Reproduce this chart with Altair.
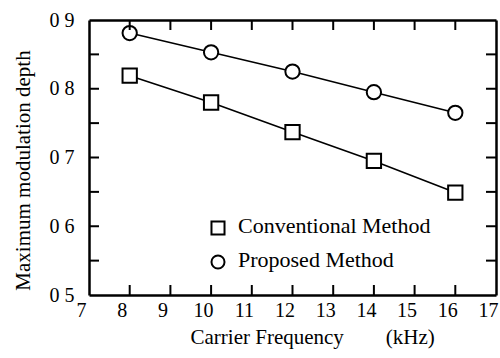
import altair as alt
import pandas as pd

freq = [8, 10, 12, 14, 16]
conventional = [0.819, 0.780, 0.737, 0.695, 0.649]
proposed = [0.881, 0.853, 0.825, 0.795, 0.765]
series_names = ["Conventional Method", "Proposed Method"]
series_shapes = ["square", "circle"]
x_ticks = list(range(7, 18))
y_ticks = [0.5, 0.55, 0.6, 0.65, 0.7, 0.75, 0.8, 0.85, 0.9]

rows = []
for f, c in zip(freq, conventional):
    rows.append({"freq": f, "depth": c, "method": series_names[0]})
for f, p in zip(freq, proposed):
    rows.append({"freq": f, "depth": p, "method": series_names[1]})
df = pd.DataFrame(rows)
xt = pd.DataFrame({"v": x_ticks[1:-1]})
yt = pd.DataFrame({"v": y_ticks[1:-1]})

FONT = "Liberation Serif"
W, H, TL = 407, 275, 10

xscale = alt.Scale(domain=[7, 17], nice=False)
yscale = alt.Scale(domain=[0.5, 0.9], nice=False, zero=False)

x_bottom = alt.X("freq:Q", scale=xscale, axis=alt.Axis(
    values=x_ticks, ticks=False, labelPadding=5, labelFlush=False,
    labelOverlap=False, labelOffset=-8, format="d",
    labelFontSize=20, labelFont=FONT, labelColor="black",
    title="Carrier Frequency" + "\u00a0" * 8 + "(kHz)",
    titleFont=FONT, titleFontSize=21, titleFontWeight="normal", titleColor="black",
    titleAlign="left", titleX=101, titleY=48, titleBaseline="alphabetic",
    domainWidth=2.5, domainColor="black", grid=False))
y_left = alt.Y("depth:Q", scale=yscale, axis=alt.Axis(
    values=y_ticks, ticks=False, labelPadding=15, labelFlush=False,
    labelOverlap=False,
    labelExpr="round(datum.value*100)%10==0 ? replace(format(datum.value,'.1f'),'.',' ') : ''",
    labelFontSize=20, labelFont=FONT, labelColor="black",
    title="Maximum modulation depth", titleFont=FONT, titleFontSize=21,
    titleFontWeight="normal", titleColor="black",
    titleX=-60, titleY=150, titleBaseline="alphabetic",
    domainWidth=2.5, domainColor="black", grid=False))

lines = alt.Chart(df).mark_line(color="black", strokeWidth=1.6).encode(
    x=x_bottom, y=y_left, detail="method:N")

points = alt.Chart(df).mark_point(filled=True, fill="white", stroke="black",
                                  strokeWidth=2, size=205, opacity=1).encode(
    x=alt.X("freq:Q", scale=xscale, axis=None),
    y=alt.Y("depth:Q", scale=yscale, axis=None),
    shape=alt.Shape("method:N",
                    scale=alt.Scale(domain=series_names, range=series_shapes),
                    legend=None),
)

mirror = alt.Chart(df).mark_point(opacity=0).encode(
    x=alt.X("freq:Q", scale=xscale, axis=alt.Axis(
        orient="top", values=x_ticks, ticks=False, labels=False, title=None,
        domainWidth=2.5, domainColor="black", grid=False)),
    y=alt.Y("depth:Q", scale=yscale, axis=alt.Axis(
        orient="right", values=y_ticks, ticks=False, labels=False, title=None,
        domainWidth=2.5, domainColor="black", grid=False)),
)

tick_style = dict(color="black", strokeWidth=2)
ticks_bottom = alt.Chart(xt).mark_rule(**tick_style).encode(
    x=alt.X("v:Q", scale=xscale, axis=None), y=alt.value(H), y2=alt.value(H - TL))
ticks_top = alt.Chart(xt).mark_rule(**tick_style).encode(
    x=alt.X("v:Q", scale=xscale, axis=None), y=alt.value(0), y2=alt.value(TL))
ticks_left = alt.Chart(yt).mark_rule(**tick_style).encode(
    y=alt.Y("v:Q", scale=yscale, axis=None), x=alt.value(0), x2=alt.value(TL))
ticks_right = alt.Chart(yt).mark_rule(**tick_style).encode(
    y=alt.Y("v:Q", scale=yscale, axis=None), x=alt.value(W), x2=alt.value(W - TL))

# legend (inside plot, lower middle)
legend_layers = []
legend_rows_y = [208, 242]
for name, shp, ly in zip(series_names, series_shapes, legend_rows_y):
    ldf = pd.DataFrame({"method": [name]})
    legend_layers.append(
        alt.Chart(ldf).mark_point(shape=shp, filled=True, fill="white",
                                  stroke="black", strokeWidth=2, size=170,
                                  opacity=1).encode(
            x=alt.value(129), y=alt.value(ly)))
    legend_layers.append(
        alt.Chart(ldf).mark_text(align="left", baseline="middle", font=FONT,
                                 fontSize=22, color="black").encode(
            text="method:N", x=alt.value(149), y=alt.value(ly - 2)))

chart = alt.layer(lines, points, mirror, ticks_bottom, ticks_top, ticks_left,
                  ticks_right, *legend_layers).resolve_axis(
    x="independent", y="independent"
).properties(
    width=W, height=H,
    autosize=alt.AutoSizeParams(type="none"),
    padding={"left": 89, "top": 20, "right": 4, "bottom": 63},
    background="white",
).configure_view(stroke=None)

chart.save("out.html", embed_options={"renderer": "svg", "actions": False})
